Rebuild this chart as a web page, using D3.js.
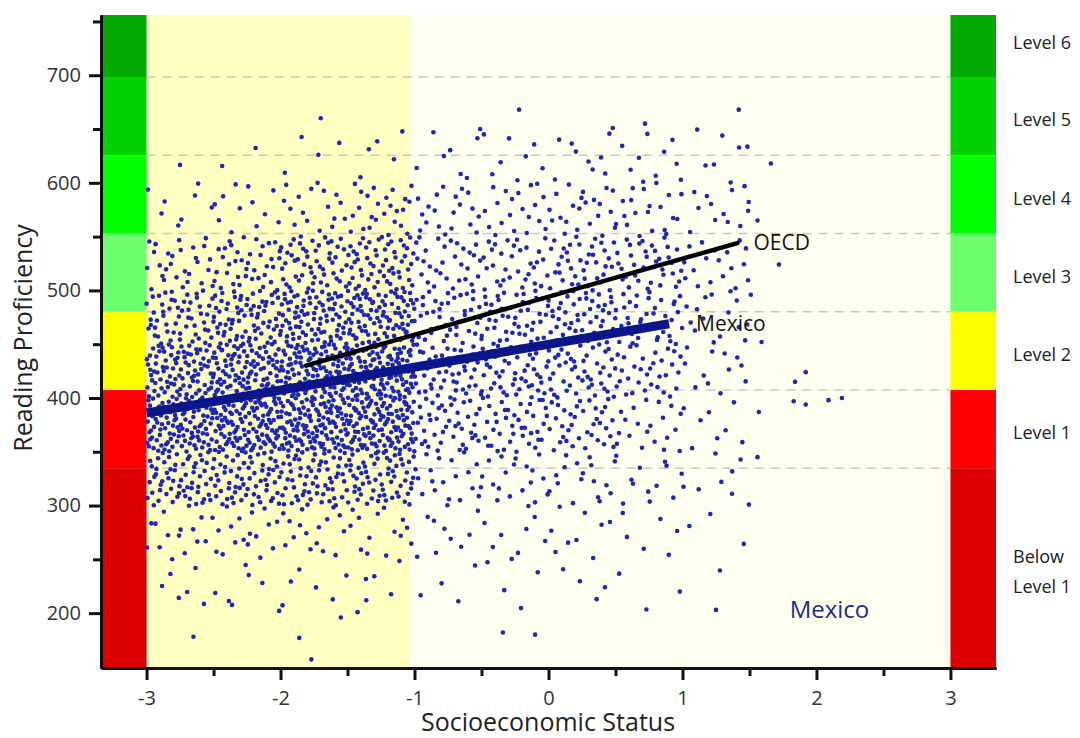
<!DOCTYPE html>
<html>
<head>
<meta charset="utf-8">
<script src="https://cdn.jsdelivr.net/npm/d3@7"></script>
<style>
  body { margin: 0; background: #fff; }
  svg { display: block; font-family: "Open Sans", sans-serif; }
</style>
</head>
<body>
<svg id="chart" width="1080" height="738"></svg>
<script>
// scatter density: points per cell (0.5 SES x 50 score)
var sesBinStarts = [-3, -2.5, -2, -1.5, -1, -0.5, 0, 0.5, 1];
var scoreBinStarts = [600, 550, 500, 450, 400, 350, 300, 250, 200];
var pointCounts = [
    [1, 2, 4, 5, 7, 8, 9, 10, 7],
    [8, 12, 18, 25, 20, 20, 22, 20, 12],
    [28, 38, 50, 58, 30, 32, 38, 35, 18],
    [55, 70, 85, 90, 42, 45, 50, 38, 15],
    [90, 100, 115, 115, 50, 50, 45, 32, 12],
    [105, 115, 120, 120, 42, 40, 36, 20, 8],
    [60, 62, 62, 62, 20, 18, 17, 12, 6],
    [16, 17, 16, 14, 9, 9, 9, 6, 3],
    [6, 7, 6, 5, 4, 4, 4, 3, 1]
];
// single points outside the main cloud
var outlierSes = [-1.7, -0.22, -0.51, 0.48, 0.72, 1.42, -1.77, -2.65, -1.86, -1.55, -1.36, -0.10, -0.34, 1.25,
    1.84, 1.92, 1.83, 1.92, 2.09, 2.19, 1.66, 1.72, 1.59, 1.56, 1.57, 1.51, 1.56, 1.49, 1.37, 1.29];
var outlierScore = [660, 668, 650, 651, 655, 668, 157, 178, 177, 196, 212, 180, 182, 203,
    415, 424, 397, 394, 398, 400, 618, 524, 452, 345, 387, 496, 565, 574, 311, 322];

// regression lines [ses, score] end points
var oecdLine = [[-1.81, 430], [1.41, 544]];
var mexicoLine = [[-3.0, 386], [0.90, 469]];

// PISA proficiency bands
var levelCuts = [149, 334.75, 407.47, 480.18, 552.89, 625.61, 698.32, 756];
var levelNames = [['Below', 'Level 1'], ['Level 1'], ['Level 2'], ['Level 3'], ['Level 4'], ['Level 5'], ['Level 6']];
var levelColors = ['#dc0000', '#ff0000', '#ffff00', '#6bff6b', '#00ff00', '#00d200', '#00aa00'];

var xTicks = [-3, -2, -1, 0, 1, 2, 3];
var yTicks = [200, 300, 400, 500, 600, 700];

(function () {
    var svg = d3.select('#chart');
    var plotLeft = 101, plotRight = 996, plotTop = 15, plotBottom = 668;

    var x = d3.scaleLinear().domain([-3.34, 3.34]).range([plotLeft, plotRight]);
    var y = d3.scaleLinear().domain([149, 756]).range([plotBottom, plotTop]);

    // background zones
    svg.append('rect')
        .attr('x', x(-3)).attr('y', plotTop)
        .attr('width', x(-1.03) - x(-3)).attr('height', plotBottom - plotTop)
        .attr('fill', '#ffffc2');
    svg.append('rect')
        .attr('x', x(-1.03)).attr('y', plotTop)
        .attr('width', x(3) - x(-1.03)).attr('height', plotBottom - plotTop)
        .attr('fill', '#fffff0');

    // dashed level boundaries
    svg.selectAll('.cut')
        .data(levelCuts.slice(1, -1))
        .enter().append('line')
        .attr('x1', x(-3)).attr('x2', x(3))
        .attr('y1', function (d) { return y(d); })
        .attr('y2', function (d) { return y(d); })
        .attr('stroke', '#c8c8c8')
        .attr('stroke-width', 1.5)
        .attr('stroke-dasharray', '9,7');

    // side colour bands
    function bands(span) {
        levelColors.forEach(function (c, i) {
            svg.append('rect')
                .attr('x', x(span[0])).attr('width', x(span[1]) - x(span[0]))
                .attr('y', y(levelCuts[i + 1]))
                .attr('height', y(levelCuts[i]) - y(levelCuts[i + 1]))
                .attr('fill', c);
        });
    }
    bands([-3.34, -3]);
    bands([3, 3.34]);

    // deterministic spread of points inside each cell
    function halton(i, b) {
        var f = 1, r = 0;
        while (i > 0) { f /= b; r += f * (i % b); i = Math.floor(i / b); }
        return r;
    }
    var points = [];
    pointCounts.forEach(function (row, r) {
        row.forEach(function (n, c) {
            for (var i = 0; i < n; i++) {
                var k = i + 1 + (r * 9 + c) * 131;
                points.push([sesBinStarts[c] + 0.5 * halton(k, 2), scoreBinStarts[r] + 50 * halton(k, 3)]);
            }
        });
    });
    outlierSes.forEach(function (s, i) { points.push([s, outlierScore[i]]); });

    svg.append('g').selectAll('circle')
        .data(points)
        .enter().append('circle')
        .attr('cx', function (d) { return x(d[0]); })
        .attr('cy', function (d) { return y(d[1]); })
        .attr('r', 2.3)
        .attr('fill', '#1c26b8');

    // regression lines
    var line = d3.line()
        .x(function (d) { return x(d[0]); })
        .y(function (d) { return y(d[1]); });
    svg.append('path').attr('d', line(mexicoLine))
        .attr('stroke', '#0c168a').attr('stroke-width', 9).attr('fill', 'none');
    svg.append('path').attr('d', line(oecdLine))
        .attr('stroke', '#000').attr('stroke-width', 4.5).attr('stroke-linecap', 'round').attr('fill', 'none');

    svg.append('text').attr('x', x(oecdLine[1][0]) + 16).attr('y', y(oecdLine[1][1]))
        .attr('dy', '0.35em').attr('font-size', 21).attr('fill', '#111').text('OECD');
    svg.append('text').attr('x', x(mexicoLine[1][0]) + 27).attr('y', y(mexicoLine[1][1]))
        .attr('dy', '0.35em').attr('font-size', 21).attr('fill', '#111').text('Mexico');
    svg.append('text').attr('x', x(1.8)).attr('y', y(203))
        .attr('dy', '0.35em').attr('font-size', 24).attr('fill', '#1f2a8f').text('Mexico');

    // axes
    var xAxis = d3.axisBottom(x).tickValues(xTicks).tickSize(12).tickSizeOuter(0).tickPadding(11)
        .tickFormat(function (d) { return String(d); });
    var xMinor = d3.axisBottom(x).tickValues(d3.range(-2.5, 3, 1)).tickSize(8).tickSizeOuter(0).tickFormat('');
    var yAxis = d3.axisLeft(y).tickValues(yTicks).tickSize(12).tickSizeOuter(0).tickPadding(8);
    var yMinor = d3.axisLeft(y).tickValues(d3.range(250, 751, 100)).tickSize(8).tickSizeOuter(0).tickFormat('');

    function styleAxis(g) {
        g.attr('font-size', 20).attr('font-family', '"Open Sans", sans-serif');
        g.select('.domain').attr('stroke', '#111').attr('stroke-width', 3);
        g.selectAll('.tick line').attr('stroke', '#111').attr('stroke-width', 3);
        g.selectAll('.tick text').attr('fill', '#333');
    }
    svg.append('g').attr('transform', 'translate(0,' + plotBottom + ')').call(xMinor).call(styleAxis);
    svg.append('g').attr('transform', 'translate(0,' + plotBottom + ')').call(xAxis).call(styleAxis);
    svg.append('g').attr('transform', 'translate(' + plotLeft + ',0)').call(yMinor).call(styleAxis);
    svg.append('g').attr('transform', 'translate(' + plotLeft + ',0)').call(yAxis).call(styleAxis);

    // axis titles
    svg.append('text').attr('x', 548).attr('y', 731).attr('text-anchor', 'middle')
        .attr('font-size', 25).attr('fill', '#222').text('Socioeconomic Status');
    svg.append('text').attr('transform', 'translate(32,338) rotate(-90)').attr('text-anchor', 'middle')
        .attr('font-size', 25).attr('fill', '#222').text('Reading Proficiency');

    // level labels to the right
    levelNames.forEach(function (lines, i) {
        var mid = (y(levelCuts[i]) + y(levelCuts[i + 1])) / 2 + (i === 6 ? -3 : 4);
        var t = svg.append('text').attr('font-size', 18).attr('fill', '#222');
        lines.forEach(function (s, j) {
            t.append('tspan').attr('x', 1013)
                .attr('y', mid + (j - (lines.length - 1) / 2) * 30)
                .attr('dy', '0.35em').text(s);
        });
    });
})();
</script>
</body>
</html>
